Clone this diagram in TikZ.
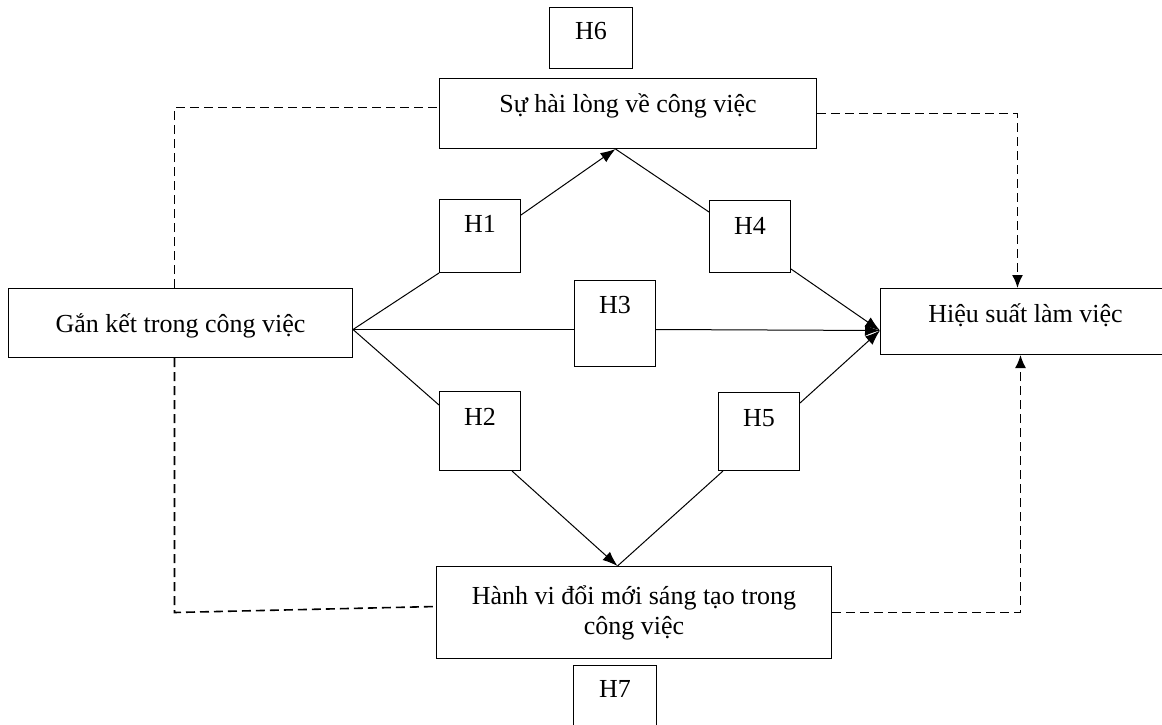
\documentclass[tikz,border=0pt]{standalone}
\usepackage{fontspec}
\setmainfont{Liberation Serif}
\usetikzlibrary{arrows.meta}
\begin{document}
\begin{tikzpicture}[x=1pt,y=-1pt,
  box/.style={draw, line width=1pt, inner xsep=0pt, inner ysep=0pt, anchor=north west,
              font=\fontsize{26}{30}\selectfont},
  link/.style={line width=1pt},
  arr/.style={link, -{Latex[length=15pt,width=11pt]}},
  dsh/.style={line width=1.6pt, dash pattern=on 9pt off 5pt},
  darr/.style={dsh, -{Latex[length=13pt,width=11pt]}}]
\useasboundingbox (0,0) rectangle (1162,725);

\node[box, minimum width=377pt, text height=34pt, text depth=36pt] (sh) at (439,78) {Sự hài lòng về công việc};
\node[box, minimum width=83pt, text height=32pt, text depth=29pt] (h6) at (549,7) {H6};
\node[box, minimum width=344pt, text height=44pt, text depth=25pt] (gk) at (8,288) {Gắn kết trong công việc};
\node[box, minimum width=290pt, text height=34pt, text depth=32pt] (hs) at (880,288) {Hiệu suất làm việc};
\node[box, minimum width=81pt, text height=33pt, text depth=40pt] (h1) at (439,199) {H1};
\node[box, minimum width=81pt, text height=34pt, text depth=38pt] (h4) at (709,200) {H4};
\node[box, minimum width=81pt, text height=33pt, text depth=53pt] (h3) at (574,280) {H3};
\node[box, minimum width=81pt, text height=34pt, text depth=45pt] (h2) at (439,391) {H2};
\node[box, minimum width=81pt, text height=34pt, text depth=44pt] (h5) at (718,392) {H5};
\node[box, minimum width=395pt, minimum height=92pt, align=center] (hv) at (436,566) {Hành vi đổi mới sáng tạo trong\\công việc};
\node[box, minimum width=83pt, text height=32pt, text depth=60pt] (h7) at (573,665) {H7};

\coordinate (apex) at ([yshift=-6.5pt]gk.east);
\coordinate (hsin) at ([yshift=-9pt]hs.west);
\coordinate (shin) at ([xshift=-12.5pt]sh.south);
\coordinate (hvin) at ([xshift=-16.5pt]hv.north);

\draw[link] (apex) -- (h1.south west);
\draw[arr] ([yshift=-16pt]h1.north east) -- (shin);
\draw[link] (shin) -- ([yshift=-12pt]h4.north west);
\draw[arr] ([yshift=4pt]h4.south east) -- (hsin);
\draw[link] (apex) -- (apex -| h3.west);
\draw[arr] (h3.east |- apex) -- (hsin);
\draw[link] (apex) -- ([yshift=-14pt]h2.north west);
\draw[arr] ([xshift=-9pt]h2.south east) -- (hvin);
\draw[link] ([xshift=5pt]h5.south west) -- (hvin);
\draw[arr] ([yshift=-11pt]h5.north east) -- (hsin);

\draw[dsh] ([xshift=-6pt]gk.north) |- ([yshift=6pt]sh.west);
\draw[dsh] ([xshift=-6pt]gk.south) -- ([xshift=-6pt]gk.south |- hv.west) -- ([yshift=6pt]hv.west);
\draw[darr] (sh.east) -| ([xshift=-8pt]hs.north);
\draw[darr] (hv.east) -| ([xshift=-5pt]hs.south);
\end{tikzpicture}
\end{document}
